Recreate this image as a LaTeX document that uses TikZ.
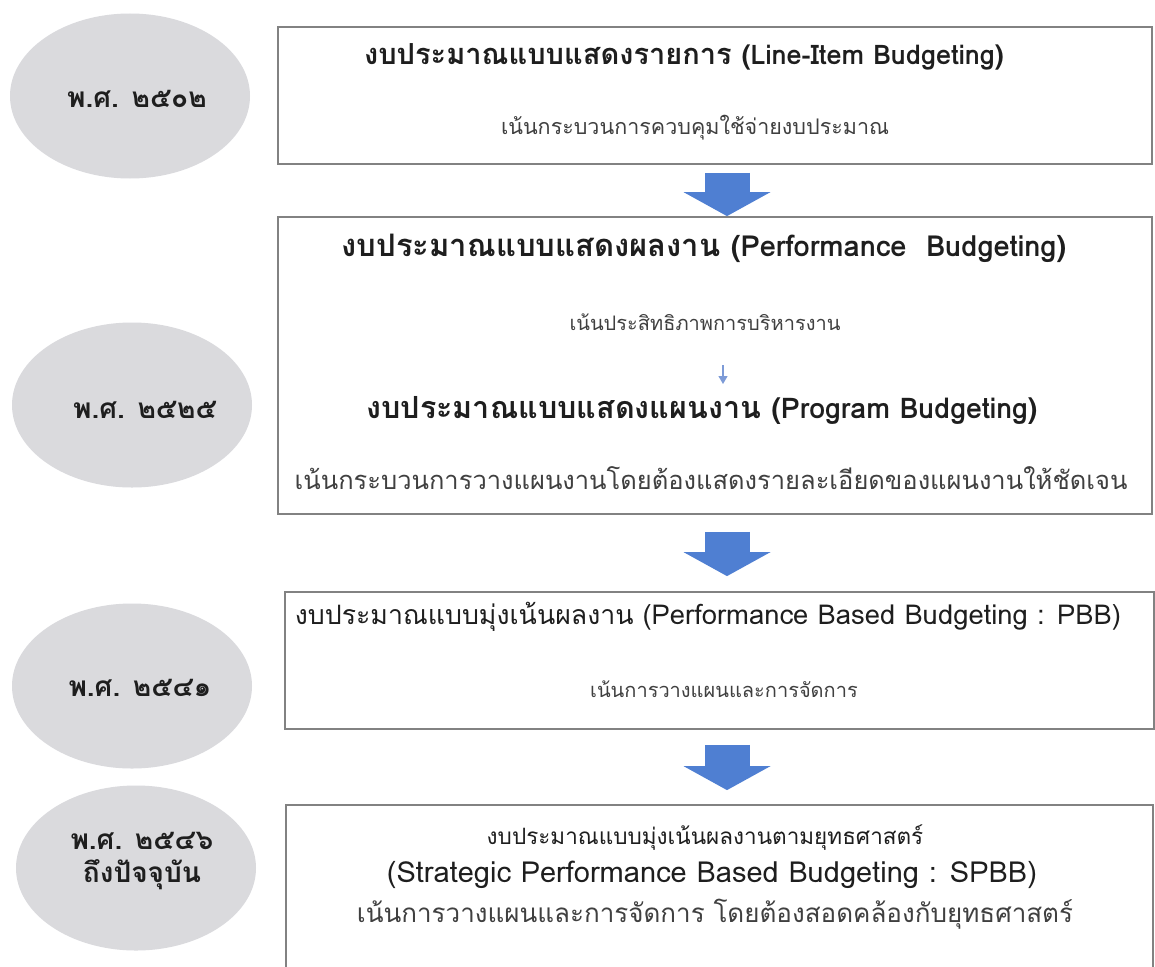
\documentclass[tikz,border=0pt]{standalone}
\usepackage{fontspec}
\setmainfont[Script=Thai]{Loma}
\usetikzlibrary{shapes.geometric,arrows.meta,calc}
\newcommand\setfs[1]{\fontsize{#1}{#1}\selectfont}
\definecolor{arrowblue}{RGB}{79,127,210}
\definecolor{smallblue}{RGB}{125,155,215}
\definecolor{boxgray}{RGB}{130,130,130}
\definecolor{ellgray}{RGB}{218,218,221}
\definecolor{txt}{RGB}{30,30,30}
\begin{document}
\begin{tikzpicture}[x=1pt,y=-1pt,
 era/.style={ellipse, fill=ellgray, minimum width=240pt, minimum height=165pt, inner sep=0pt},
 eralabel/.style={font=\bfseries\fontsize{28}{33}\selectfont, text=txt, align=center, inner sep=0pt},
 stage/.style={draw=boxgray, line width=1.8pt, rectangle, inner sep=0pt},
 ttl/.style={font=\bfseries, text=txt, inner sep=0pt},
 ttlr/.style={text=txt, inner sep=0pt},
 sub/.style={text=txt!85, inner sep=0pt},
 bigarrow/.style={draw=arrowblue, line width=45pt, -{Triangle[width=87pt,length=24pt,line width=0pt,fill=arrowblue]}},
 smallarrow/.style={draw=smallblue, line width=1.2pt, -{Triangle[width=9pt,length=8pt]}}
]
\clip (0,0) rectangle (1155,966);
\useasboundingbox (0,0) rectangle (1155,966);
\fill[white] (0,0) rectangle (1155,966);

% era ellipses
\node[era] (e1) at (130,96) {};
\node[era] (e2) at (132,405) {};
\node[era] (e3) at (132,686) {};
\node[era] (e4) at (136,868) {};
\node[eralabel] (l1) at (137,99) {พ.ศ. ๒๕๐๒};
\node[eralabel] (l2) at (145,410) {พ.ศ. ๒๕๒๕};
\node[eralabel] (l3) at (140,688) {พ.ศ. ๒๕๔๑};
\node[eralabel] (l4) at (142,861) {พ.ศ. ๒๕๔๖\\ถึงปัจจุบัน};

% stage boxes
\node[stage, minimum width=874pt, minimum height=137pt] (b1) at (715,95.5) {};
\node[stage, minimum width=874pt, minimum height=297pt] (b2) at (715,365.5) {};
\node[stage, minimum width=869pt, minimum height=137pt] (b3) at (719.5,660.5) {};
\node[stage, minimum width=867pt, minimum height=200pt] (b4) at (719.5,905) {};

% texts
\node[ttl] (t1) at (684,57) {\setfs{29}งบประมาณแบบแสดงรายการ \setfs{27}(Line-Item Budgeting)};
\node[sub] (s1) at (695,128) {\setfs{21.5}เน้นกระบวนการควบคุมใช้จ่ายงบประมาณ};
\node[ttl] (t2) at (704,248) {\setfs{31}งบประมาณแบบแสดงผลงาน \setfs{29}(Performance\ \ Budgeting)};
\node[sub] (s2) at (705,322) {\setfs{20}เน้นประสิทธิภาพการบริหารงาน};
\node[ttl] (t3) at (702,410) {\setfs{30.5}งบประมาณแบบแสดงแผนงาน \setfs{28.5}(Program Budgeting)};
\node[sub] (s3) at (711,478) {\setfs{25.5}เน้นกระบวนการวางแผนงานโดยต้องแสดงรายละเอียดของแผนงานให้ชัดเจน};
\node[ttlr] (t4) at (708,617) {\setfs{26.7}งบประมาณแบบมุ่งเน้นผลงาน \setfs{27.4}(Performance Based Budgeting : PBB)};
\node[sub] (s4) at (724,689) {\setfs{20}เน้นการวางแผนและการจัดการ};
\node[ttlr] (t5) at (705,838) {\setfs{22.5}งบประมาณแบบมุ่งเน้นผลงานตามยุทธศาสตร์};
\node[ttlr] (t6) at (712,875) {\setfs{29}(Strategic Performance Based Budgeting : SPBB)};
\node[sub] (s5) at (715,914) {\setfs{26}เน้นการวางแผนและการจัดการ โดยต้องสอดคล้องกับยุทธศาสตร์};

% connectors
\coordinate (ax) at (727,0);
\coordinate (sx) at (723,0);
\draw[bigarrow] ($(b1.south -| ax)+(0,8)$) -- (b2.north -| ax);
\draw[bigarrow] ($(b2.south -| ax)+(0,17)$) -- ($(b3.north -| ax)+(0,-15)$);
\draw[bigarrow] ($(b3.south -| ax)+(0,15)$) -- ($(b4.north -| ax)+(0,-14)$);
\draw[smallarrow] ($(s2 -| sx)+(0,43)$) -- ($(t3 -| sx)+(0,-26)$);
\end{tikzpicture}
\end{document}
